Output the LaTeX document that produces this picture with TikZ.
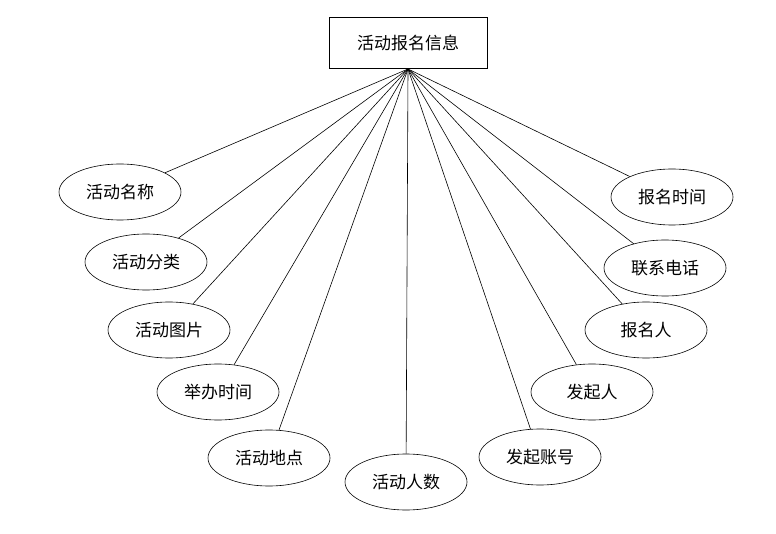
\documentclass[tikz,border=0pt]{standalone}
\usepackage{fontspec}
\setmainfont{Noto Sans CJK SC}
\usetikzlibrary{shapes.geometric}

\begin{document}
\begin{tikzpicture}[x=1pt, y=-1pt, semithick, font=\fontsize{17}{17}\selectfont]
	\tikzstyle{entity}=[draw=black,fill=white,minimum width=158pt,minimum height=51pt,inner sep=0pt]
	\tikzstyle{attr}=[ellipse,draw=black,fill=white,minimum width=122pt,minimum height=56pt,inner sep=0pt]
	\useasboundingbox (0,0) rectangle (776,534);
	\node[entity]   (info)   at (408,42.5)  {活动报名信息};
	\coordinate     (hub)    at (408,69);
	\node[attr]     (name)   at (120,192)   {活动名称};
	\node[attr]     (type)   at (146,262)   {活动分类};
	\node[attr]     (pic)    at (169,330)   {活动图片};
	\node[attr]     (time)   at (218,392)   {举办时间};
	\node[attr]     (place)  at (269,458)   {活动地点};
	\node[attr]     (num)    at (406,482)   {活动人数};
	\node[attr]     (acct)   at (540,457)   {发起账号};
	\node[attr]     (host)   at (592,392)   {发起人};
	\node[attr]     (who)    at (646,330)   {报名人};
	\node[attr]     (tel)    at (665,268)   {联系电话};
	\node[attr]     (stime)  at (672,197)   {报名时间};
	\foreach \n in {name,type,pic,time,place,num,acct,host,who,tel,stime}
		\draw (hub) -- (\n);
\end{tikzpicture}
\end{document}
